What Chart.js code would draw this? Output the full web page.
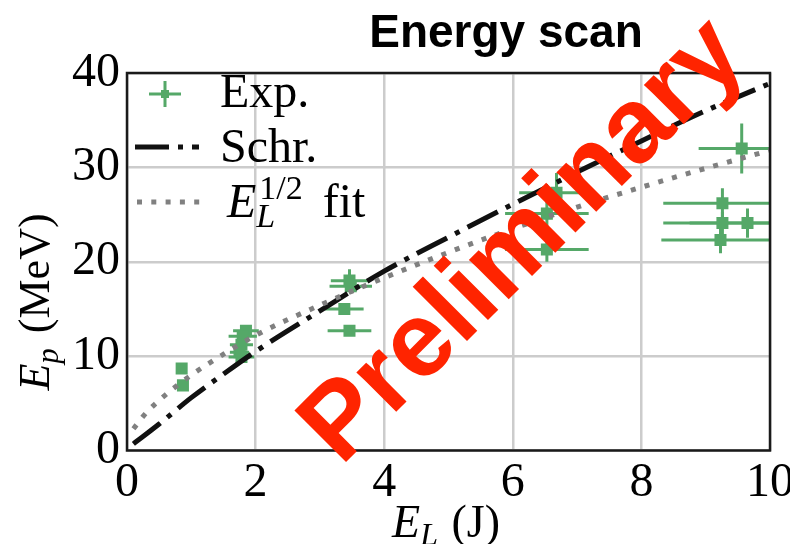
<!DOCTYPE html>
<html>
<head>
<meta charset="utf-8">
<script src="https://cdn.jsdelivr.net/npm/chart.js@4"></script>
<style>
  html, body { margin: 0; padding: 0; background: #fff; }
</style>
</head>
<body>
<canvas id="energyScan" width="790" height="544"></canvas>
<script>
// measured points (E_L in J, E_p in MeV) with symmetric errors
const expX    = [0.85, 0.87, 1.85, 1.80, 1.78, 1.75, 1.78, 3.46, 3.48, 3.38, 3.46, 6.68, 6.53, 6.53, 9.56, 9.26, 9.26, 9.65, 9.23];
const expY    = [8.7, 6.9, 12.7, 12.1, 11.2, 10.4, 9.9, 18.0, 17.4, 15.0, 12.7, 27.3, 25.1, 21.3, 32.0, 26.2, 24.1, 24.1, 22.3];
const expXErr = [0.05, 0.05, 0.20, 0.22, 0.18, 0.15, 0.20, 0.29, 0.33, 0.30, 0.34, 0.58, 0.65, 0.65, 0.67, 0.92, 0.92, 0.90, 0.92];
const expYErr = [0.3, 0.3, 0.5, 0.5, 0.5, 0.5, 0.4, 1.2, 0.8, 0.6, 0.5, 2.1, 1.5, 1.3, 2.65, 1.6, 1.2, 1.55, 1.4];

// Schroedinger model curve
const schrX = [0.1, 0.5, 1, 1.5, 2, 3, 4, 5, 6, 7, 8, 9, 10];
const schrY = [0.7, 2.8, 5.6, 8.1, 10.5, 14.8, 19.0, 22.6, 26.1, 29.5, 32.8, 36.0, 38.9];

// E_L^(1/2) fit curve
const fitX = [0.1, 0.3, 0.6, 1, 1.5, 2, 3, 4, 5, 6, 7, 8, 9, 10];
const fitY = [2.3, 4.0, 5.9, 8.0, 10.2, 12.2, 15.4, 18.3, 21.0, 23.5, 25.8, 27.9, 29.9, 31.8];

const xTicks = [0, 2, 4, 6, 8, 10];
const yTicks = [0, 10, 20, 30, 40];

const green = '#55a868';
const serif = "'Liberation Serif', 'Times New Roman', serif";
const sans = "'Liberation Sans', Arial, sans-serif";

function drawRuns(ctx, runs, x, y) {
  let cx = x;
  runs.forEach(r => {
    ctx.font = r.font;
    ctx.fillText(r.t, cx + (r.dx || 0), y + (r.dy || 0));
    if (!r.noAdvance) cx += ctx.measureText(r.t).width + (r.dx || 0);
  });
  return cx;
}
function runsWidth(ctx, runs) {
  let w = 0;
  runs.forEach(r => { ctx.font = r.font; if (!r.noAdvance) w += ctx.measureText(r.t).width + (r.dx || 0); });
  return w;
}

const errorBars = {
  id: 'errorBars',
  beforeDatasetsDraw(chart) {
    const { ctx, chartArea: a, scales: { x, y } } = chart;
    ctx.save();
    ctx.beginPath();
    ctx.rect(a.left, a.top, a.right - a.left, a.bottom - a.top);
    ctx.clip();
    ctx.strokeStyle = green;
    ctx.lineWidth = 3;
    ctx.lineCap = 'butt';
    expX.forEach((v, i) => {
      const px = x.getPixelForValue(v), py = y.getPixelForValue(expY[i]);
      ctx.beginPath();
      ctx.moveTo(x.getPixelForValue(v - expXErr[i]), py);
      ctx.lineTo(x.getPixelForValue(v + expXErr[i]), py);
      ctx.moveTo(px, y.getPixelForValue(expY[i] - expYErr[i]));
      ctx.lineTo(px, y.getPixelForValue(expY[i] + expYErr[i]));
      ctx.stroke();
    });
    ctx.restore();
  }
};

const decorations = {
  id: 'decorations',
  afterDatasetsDraw(chart) {
    const { ctx, chartArea: a } = chart;
    ctx.save();
    // frame
    ctx.strokeStyle = '#1a1a1a';
    ctx.lineWidth = 2.5;
    ctx.strokeRect(a.left, a.top, a.right - a.left, a.bottom - a.top);

    // legend
    ctx.strokeStyle = green;
    ctx.lineWidth = 3;
    ctx.beginPath();
    ctx.moveTo(149, 94); ctx.lineTo(181, 94);
    ctx.moveTo(165, 81); ctx.lineTo(165, 107);
    ctx.stroke();
    ctx.fillStyle = green;
    ctx.fillRect(161, 90, 8, 8);

    ctx.strokeStyle = '#111';
    ctx.lineWidth = 5;
    ctx.setLineDash([34, 9, 5, 9]);
    ctx.beginPath(); ctx.moveTo(135, 147); ctx.lineTo(199, 147); ctx.stroke();

    ctx.strokeStyle = '#808080';
    ctx.setLineDash([5, 9.3]);
    ctx.beginPath(); ctx.moveTo(137, 202); ctx.lineTo(200, 202); ctx.stroke();
    ctx.setLineDash([]);

    ctx.fillStyle = '#000';
    ctx.textAlign = 'left';
    ctx.textBaseline = 'alphabetic';
    ctx.font = '48px ' + serif;
    ctx.fillText('Exp.', 220, 107);
    ctx.fillText('Schr.', 220, 162);
    drawRuns(ctx, [
      { t: 'E', font: 'italic 48px ' + serif },
      { t: 'L', font: 'italic 34px ' + serif, dy: 10, noAdvance: true },
      { t: '1/2', font: '34px ' + serif, dy: -18, dx: 3 },
      { t: ' fit', font: '48px ' + serif, dx: 8 }
    ], 227, 217);

    // axis titles
    const yRuns = [
      { t: 'E', font: 'italic 44px ' + serif },
      { t: 'p', font: 'italic 31px ' + serif, dy: 9 },
      { t: ' (MeV)', font: '44px ' + serif, dx: 4 }
    ];
    ctx.save();
    ctx.translate(49, 302);
    ctx.rotate(-Math.PI / 2);
    drawRuns(ctx, yRuns, -runsWidth(ctx, yRuns) / 2, 0);
    ctx.restore();

    const xRuns = [
      { t: 'E', font: 'italic 46px ' + serif },
      { t: 'L', font: 'italic 32px ' + serif, dy: 8 },
      { t: ' (J)', font: '46px ' + serif, dx: 2 }
    ];
    drawRuns(ctx, xRuns, 446 - runsWidth(ctx, xRuns) / 2, 537);

    // title
    ctx.font = 'bold 46px ' + sans;
    ctx.textAlign = 'center';
    ctx.fillText('Energy scan', 506, 47);
    ctx.restore();
  },
  afterDraw(chart) {
    const { ctx } = chart;
    ctx.save();
    ctx.translate(341, 467);
    ctx.rotate(-Math.PI / 4);
    ctx.fillStyle = '#ff2400';
    ctx.font = 'bold 106px ' + sans;
    ctx.textAlign = 'left';
    ctx.textBaseline = 'alphabetic';
    ctx.fillText('Preliminary', 0, 0);
    ctx.restore();
  }
};

const tickFont = { family: serif, size: 48 };

new Chart(document.getElementById('energyScan').getContext('2d'), {
  type: 'scatter',
  data: {
    datasets: [
      {
        label: 'Exp.',
        data: expX.map((v, i) => ({ x: v, y: expY[i] })),
        pointStyle: 'rect',
        pointRadius: 8.5,
        backgroundColor: green,
        borderWidth: 0,
        order: 3
      },
      {
        label: 'Schr.',
        type: 'line',
        data: schrX.map((v, i) => ({ x: v, y: schrY[i] })),
        borderColor: '#111',
        borderWidth: 5,
        borderDash: [34, 9, 5, 9],
        borderCapStyle: 'butt',
        cubicInterpolationMode: 'monotone',
        pointRadius: 0,
        fill: false,
        order: 2
      },
      {
        label: 'E_L^1/2 fit',
        type: 'line',
        data: fitX.map((v, i) => ({ x: v, y: fitY[i] })),
        borderColor: '#808080',
        borderWidth: 5,
        borderDash: [5, 9.3],
        borderCapStyle: 'butt',
        cubicInterpolationMode: 'monotone',
        pointRadius: 0,
        fill: false,
        order: 1
      }
    ]
  },
  options: {
    responsive: false,
    animation: false,
    devicePixelRatio: 1,
    layout: { padding: { top: 73, right: 20, left: 0, bottom: 0 } },
    plugins: { legend: { display: false }, tooltip: { enabled: false }, title: { display: false } },
    scales: {
      x: {
        type: 'linear',
        min: 0, max: 10,
        afterBuildTicks: s => { s.ticks = xTicks.map(v => ({ value: v })); },
        afterFit: s => { s.height = 93.5; s.paddingLeft = 0; s.paddingRight = 0; },
        ticks: { font: tickFont, color: '#000', padding: 4, maxRotation: 0, autoSkip: false },
        grid: { color: '#cccccc', lineWidth: 2.5, drawTicks: false },
        border: { display: false }
      },
      y: {
        type: 'linear',
        min: 0, max: 40,
        afterBuildTicks: s => { s.ticks = yTicks.map(v => ({ value: v })); },
        afterFit: s => { s.width = 127; s.paddingTop = 0; s.paddingBottom = 0; },
        ticks: { font: tickFont, color: '#000', padding: 7 },
        grid: { color: '#cccccc', lineWidth: 2.5, drawTicks: false },
        border: { display: false }
      }
    }
  },
  plugins: [errorBars, decorations]
});
</script>
</body>
</html>
